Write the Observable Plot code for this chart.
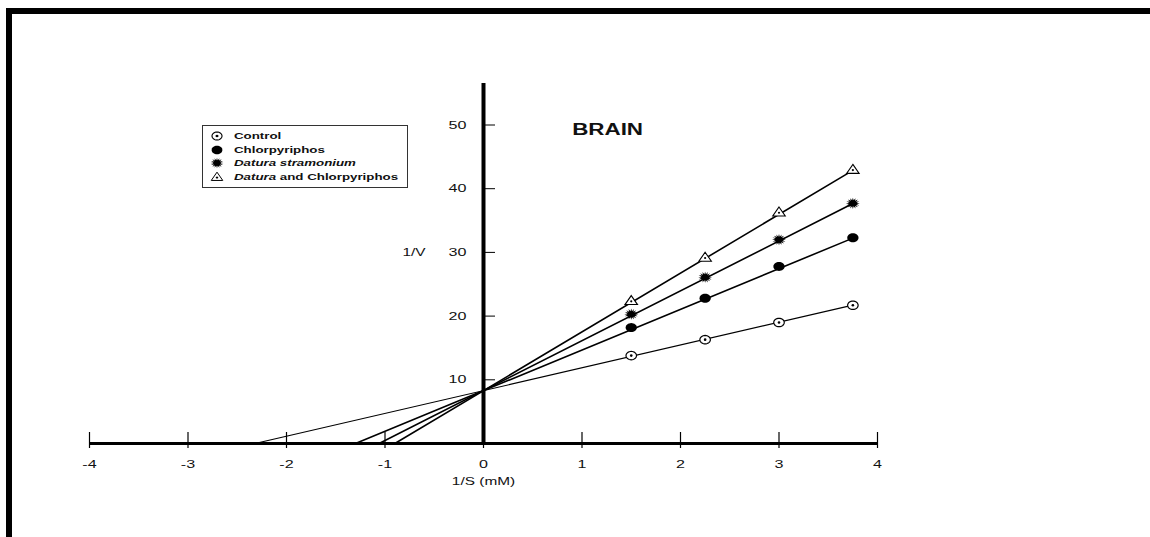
<!DOCTYPE html>
<html><head><meta charset="utf-8">
<script src="https://cdn.jsdelivr.net/npm/d3@7"></script>
<script src="https://cdn.jsdelivr.net/npm/@observablehq/plot@0.6"></script>
<style>
html,body{margin:0;padding:0;background:#fff;}
#wrap{position:relative;width:1150px;height:537px;overflow:hidden;background:#fff;}
#wrap > svg{position:absolute;left:0;top:0;}
#frame{position:absolute;left:6px;top:8px;right:0;bottom:0;border-top:6px solid #000;border-left:6px solid #000;pointer-events:none;}
#legend{position:absolute;left:202px;top:125px;width:206px;height:63px;box-sizing:border-box;border:1.5px solid #333;background:#fff;font-family:"Liberation Sans",Arial,sans-serif;font-weight:bold;font-size:9.5px;color:#111;}
.row{position:absolute;left:0;width:200px;height:12px;}
.row svg{position:absolute;left:6px;top:-1px;}
.row span{position:absolute;left:31px;top:0;line-height:12px;white-space:nowrap;transform:scaleX(1.4);transform-origin:0 50%;}
</style></head><body>
<div id="wrap"><div id="frame"></div></div>
<script>
// ---- data ----
const xValues = [1.5, 2.25, 3, 3.75];
const seriesNames = ["Control", "Chlorpyriphos", "Datura stramonium", "Datura and Chlorpyriphos"];
const controlValues = [13.8, 16.3, 19.0, 21.7];
const chlorpyriphosValues = [18.2, 22.8, 27.8, 32.3];
const daturaValues = [20.3, 26.1, 32.0, 37.7];
const bothValues = [22.4, 29.2, 36.3, 43.0];
const yIntercept = 8.3;                       // common 1/V intercept
const xIntercepts = [-2.32, -1.30, -1.06, -0.90]; // -1/Km per series
const xTicks = [-4, -3, -2, -1, 0, 1, 2, 3, 4];
const xTickLabels = ["-4", "-3", "-2", "-1", "0", "1", "2", "3", "4"];
const yTicks = [10, 20, 30, 40, 50];
const yTickLabels = ["10", "20", "30", "40", "50"];
const yAxisTop = 57.3;
const chartTitle = "BRAIN";
const xLabel = "1/S (mM)";
const yLabel = "1/V";
const legendItalic = ["", "", "Datura stramonium", "Datura"];
const legendRest = ["Control", "Chlorpyriphos", "", " and Chlorpyriphos"];

const allValues = [controlValues, chlorpyriphosValues, daturaValues, bothValues];

// ---- symbols (slightly wide, as in the reference) ----
const SX = 1.25;
function ellipsePath(ctx, rx, ry) {
  const n = 32;
  for (let i = 0; i < n; i++) {
    const a = 2 * Math.PI * i / n, px = rx * Math.cos(a), py = ry * Math.sin(a);
    if (i) ctx.lineTo(px, py); else ctx.moveTo(px, py);
  }
  ctx.closePath();
}
const symEllipse = {draw(ctx, size) { const r = Math.sqrt(size / Math.PI); ellipsePath(ctx, r * SX, r); }};
const symStar = {draw(ctx, size) {
  const r = Math.sqrt(size / Math.PI), n = 16;
  for (let i = 0; i < 2 * n; i++) {
    const a = Math.PI * i / n, rr = i % 2 ? r * 0.55 : r;
    const px = rr * SX * Math.cos(a), py = rr * Math.sin(a);
    if (i) ctx.lineTo(px, py); else ctx.moveTo(px, py);
  }
  ctx.closePath();
}};
const symTri = {draw(ctx, size) {
  const r = Math.sqrt(size / Math.PI);
  ctx.moveTo(0, -r * 1.05); ctx.lineTo(r * 1.25, r * 0.75); ctx.lineTo(-r * 1.25, r * 0.75); ctx.closePath();
}};

// ---- tables ----
const points = allValues.map(vals => vals.map((v, i) => ({x: xValues[i], y: v})));
const lastX = xValues[xValues.length - 1];
const lines = xIntercepts.map(xi => [
  {x: xi, y: 0},
  {x: lastX, y: yIntercept * (1 - lastX / xi)}
]);
const lineWidths = [1.2, 1.6, 1.6, 1.6];

const plot = Plot.plot({
  width: 1150, height: 537,
  marginTop: 78, marginBottom: 94, marginLeft: 89, marginRight: 273,
  x: {domain: [xTicks[0], xTicks[xTicks.length - 1]], axis: null},
  y: {domain: [0, yAxisTop], axis: null},
  style: {fontFamily: '"Liberation Sans", Arial, sans-serif', background: "transparent", color: "#111"},
  marks: [
    // data lines
    ...lines.map((l, k) => Plot.line(l, {x: "x", y: "y", stroke: "#000", strokeWidth: lineWidths[k]})),
    // x axis
    Plot.ruleY([0], {x1: xTicks[0], x2: xTicks[xTicks.length - 1], stroke: "#000", strokeWidth: 3}),
    Plot.ruleX(xTicks, {x: d => d, y1: 0, y2: 0, insetTop: -11, insetBottom: -5, stroke: "#000", strokeWidth: 1.2}),
    Plot.text(xTicks, {x: d => d, y: 0, dy: 21, text: (d, i) => xTickLabels[i], fontSize: 11.5, fill: "#111"}),
    // y axis
    Plot.ruleX([0], {y1: 0, y2: yAxisTop, insetBottom: -5, stroke: "#000", strokeWidth: 4}),
    Plot.ruleY(yTicks, {y: d => d, x1: 0, x2: 0, insetRight: -12, stroke: "#000", strokeWidth: 1}),
    Plot.text(yTicks, {x: 0, y: d => d, dx: -17, textAnchor: "end", text: (d, i) => yTickLabels[i], fontSize: 11.5, fill: "#111"}),
    // axis labels & title
    Plot.text([yLabel], {x: 0, y: yTicks[2], dx: -58, textAnchor: "end", text: d => d, fontSize: 11, fill: "#111"}),
    Plot.text([xLabel], {x: 0, y: 0, dy: 38, text: d => d, fontSize: 11, fill: "#111"}),
    Plot.text([chartTitle], {x: 0.9, y: 49.2, textAnchor: "start", text: d => d, fontSize: 16, fontWeight: "bold", fill: "#111"}),
    // markers
    Plot.dot(points[0], {x: "x", y: "y", r: 4.2, symbol: symEllipse, fill: "#fff", stroke: "#000", strokeWidth: 1.2}),
    Plot.dot(points[0], {x: "x", y: "y", r: 1.3, fill: "#000"}),
    Plot.dot(points[1], {x: "x", y: "y", r: 4.5, symbol: symEllipse, fill: "#000", stroke: "none"}),
    Plot.dot(points[2], {x: "x", y: "y", r: 5.6, symbol: symStar, fill: "#000", stroke: "none"}),
    Plot.dot(points[3], {x: "x", y: "y", r: 5, symbol: symTri, fill: "#fff", stroke: "#000", strokeWidth: 1.1}),
    Plot.dot(points[3], {x: "x", y: "y", r: 1.1, dy: 0.5, fill: "#000"})
  ]
});

// widen the lettering like the reference (horizontal stretch about each text's anchor)
plot.querySelectorAll("text").forEach(el => {
  const t = el.getAttribute("transform") || "";
  const xa = el.getAttribute("x");
  const x = xa && /^-?[\d.]+$/.test(xa) ? +xa : 0;
  el.setAttribute("transform", `${t} translate(${x},0) scale(1.4,1) translate(${-x},0)`);
});

const wrap = document.getElementById("wrap");
wrap.insertBefore(plot, wrap.firstChild);

// ---- legend ----
const legend = document.createElement("div");
legend.id = "legend";
const legendSyms = [
  [{sym: symEllipse, r: 4, fill: "#fff", stroke: "#000", sw: 1.1}, {sym: symEllipse, r: 1.2, fill: "#000", stroke: "none", sw: 0}],
  [{sym: symEllipse, r: 4.3, fill: "#000", stroke: "none", sw: 0}],
  [{sym: symStar, r: 5.2, fill: "#000", stroke: "none", sw: 0}],
  [{sym: symTri, r: 4.6, fill: "#fff", stroke: "#000", sw: 1}, {sym: symEllipse, r: 1, fill: "#000", stroke: "none", sw: 0, dy: 0.6}]
];
const rowTops = [4, 18, 31, 45];
seriesNames.forEach((name, i) => {
  const row = document.createElement("div");
  row.className = "row";
  row.style.top = rowTops[i] + "px";
  const paths = legendSyms[i].map(s => {
    const p = d3.path();
    s.sym.draw(p, Math.PI * s.r * s.r);
    return `<path transform="translate(8,${7 + (s.dy || 0)})" d="${p.toString()}" fill="${s.fill}" stroke="${s.stroke}" stroke-width="${s.sw}"/>`;
  }).join("");
  const label = (legendItalic[i] ? `<i>${legendItalic[i]}</i>` : "") + legendRest[i];
  row.innerHTML = `<svg width="16" height="14">${paths}</svg><span>${label}</span>`;
  legend.appendChild(row);
});
wrap.appendChild(legend);
</script>
</body></html>
